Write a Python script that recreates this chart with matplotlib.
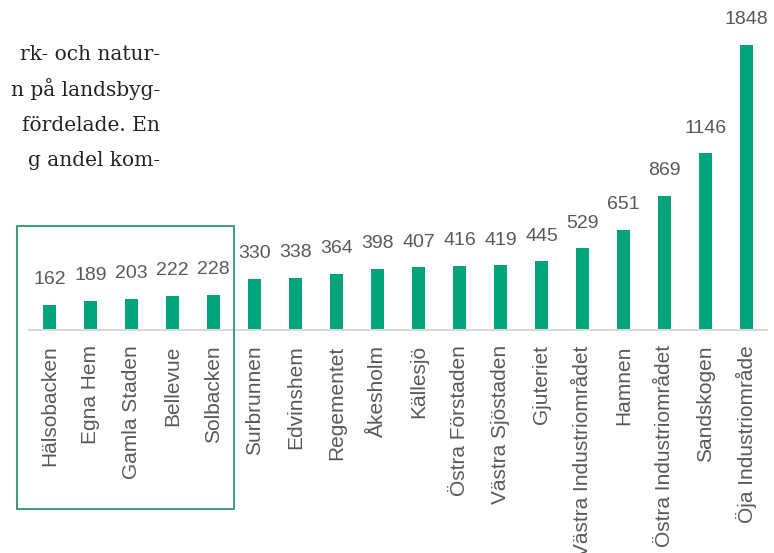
import matplotlib
matplotlib.use("Agg")
import matplotlib.pyplot as plt
from matplotlib.patches import Rectangle

# antal per område, sorterat stigande
omraden = ["Hälsobacken", "Egna Hem", "Gamla Staden", "Bellevue", "Solbacken",
           "Surbrunnen", "Edvinshem", "Regementet", "Åkesholm", "Källesjö",
           "Östra Förstaden", "Västra Sjöstaden", "Gjuteriet",
           "Västra Industriområdet", "Hamnen", "Östra Industriområdet",
           "Sandskogen", "Öja Industriområde"]
antal = [162, 189, 203, 222, 228, 330, 338, 364, 398, 407, 416, 419, 445,
         529, 651, 869, 1146, 1848]

# brödtext från sidan (avklippt i vänsterkanten)
brodtext = ["rk- och natur-", "n på landsbyg-", "fördelade. En", "g andel kom-"]

GRON = "#00A37A"
GRA = "#595959"
W, H = 774, 553

fig = plt.figure(figsize=(W / 100, H / 100), dpi=100)
fig.patch.set_facecolor("white")

# axlar i pixelkoordinater: baslinje vid y=330, x från 29 till 767
x0, x1, ybas = 29, 767, 330
ax = fig.add_axes([x0 / W, (H - ybas) / H, (x1 - x0) / W, ybas / H])
pos = list(range(len(omraden)))
bars = ax.bar(pos, antal, width=0.32, color=GRON)
ax.set_xlim(-0.5, len(omraden) - 0.5)
ax.set_ylim(0, 1848 * ybas / 285)

ax.bar_label(bars, labels=[str(v) for v in antal], padding=12,
             fontsize=14, color=GRA, family="Liberation Sans")

for s in ["top", "right", "left"]:
    ax.spines[s].set_visible(False)
ax.spines["bottom"].set_color("#d9d9d9")
ax.spines["bottom"].set_linewidth(1.5)
ax.set_yticks([])
ax.set_xticks(pos)
ax.set_xticklabels(omraden, rotation=90, fontsize=15, color=GRA,
                   family="Liberation Sans")
ax.tick_params(axis="x", length=0, pad=11)
ax.patch.set_alpha(0)

# ram kring de fem första områdena
fig.add_artist(Rectangle((17 / W, (H - 509) / H), (234 - 17) / W, (509 - 226) / H,
                         transform=fig.transFigure, fill=False,
                         edgecolor="#1E8C5E", linewidth=1.2))

for i, rad in enumerate(brodtext):
    fig.text(160 / W, 1 - (54 + i * 35.5) / H, rad, ha="right", va="center",
             fontsize=14.5, family="DejaVu Serif", color="#222222")

fig.savefig("out.png", dpi=100, facecolor="white")
